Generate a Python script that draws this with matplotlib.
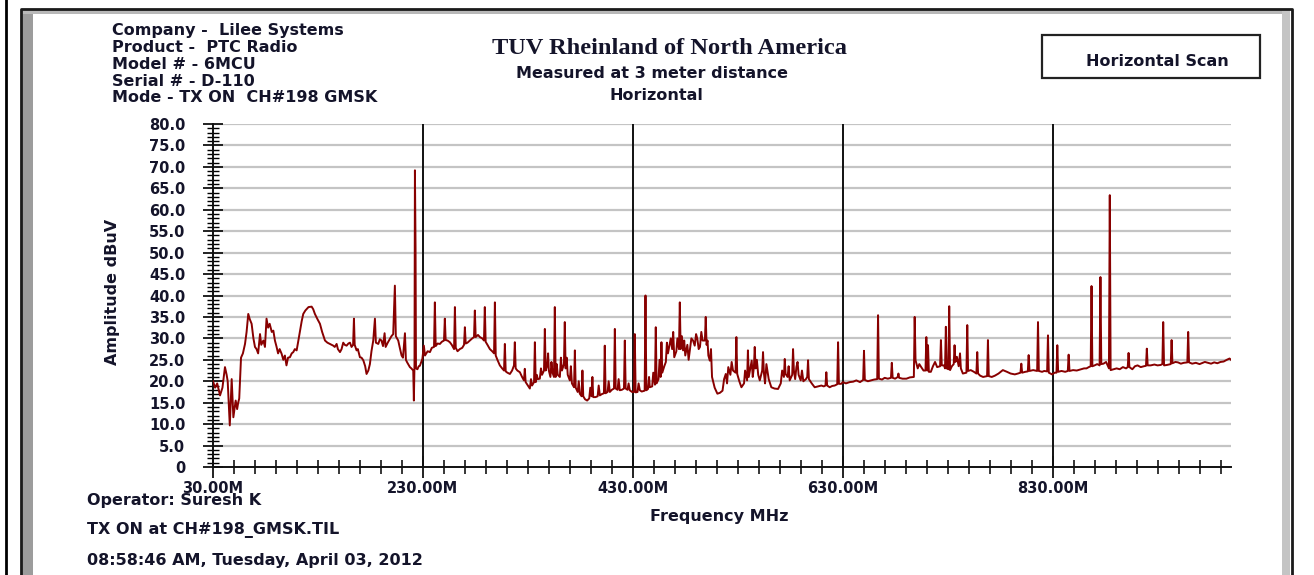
import matplotlib
matplotlib.use("Agg")
import matplotlib.pyplot as plt
import matplotlib.ticker as mticker
from matplotlib.patches import Rectangle
from matplotlib.lines import Line2D

# ---------------- data ----------------
band1 = [(30.0, 20.0), (32.0, 18.5), (34.0, 19.5), (36.7, 16.7), (39.0, 18.5), (41.4, 23.3), (43.0, 21.5),
         (44.0, 20.0), (46.0, 9.7), (47.8, 20.5), (49.4, 11.6), (51.0, 14.5), (51.6, 15.5), (53.0, 13.5),
         (54.0, 15.0), (55.0, 16.0), (56.7, 25.5), (58.5, 26.5), (60.5, 28.7), (62.0, 31.5), (63.6, 35.7),
         (65.0, 34.5), (66.8, 33.4), (68.5, 30.0), (70.0, 28.0), (71.5, 27.5), (73.0, 26.5), (74.8, 31.0),
         (76.0, 28.5), (78.0, 29.5), (79.5, 28.0), (81.0, 34.6), (82.5, 32.5), (84.0, 33.4), (86.0, 31.5),
         (87.5, 31.8), (89.0, 29.5), (90.6, 28.0), (92.0, 26.5), (93.5, 27.5), (95.4, 26.4), (97.0, 25.0),
         (98.5, 26.0), (100.0, 23.7), (101.5, 25.5), (103.3, 25.6), (105.0, 26.5), (106.5, 26.8), (108.0, 27.5),
         (109.7, 27.2), (111.0, 29.0), (112.9, 31.8), (114.5, 34.0), (116.0, 35.7), (118.0, 36.5), (121.0, 37.3),
         (124.0, 37.4), (125.5, 36.8), (127.1, 35.7), (129.5, 34.5), (131.9, 33.4), (134.0, 31.5), (136.7, 29.5),
         (139.0, 29.0), (141.4, 28.7), (144.6, 28.3), (146.0, 28.0), (147.8, 28.7), (149.0, 27.5), (151.0, 26.8),
         (152.5, 27.5), (154.1, 29.0), (155.5, 28.5), (157.3, 28.3), (159.0, 28.8), (160.5, 29.0), (162.0, 28.0),
         (163.5, 28.5), (164.3, 34.6), (165.0, 28.5), (166.8, 27.2), (168.0, 27.5), (170.0, 25.6), (171.5, 25.5),
         (173.2, 24.9), (175.0, 23.5), (176.3, 21.7), (178.0, 22.5), (179.5, 24.0), (181.0, 27.0), (182.7, 29.5),
         (184.3, 34.6), (185.2, 29.0), (187.5, 28.7), (189.0, 29.8), (190.5, 29.5), (192.0, 28.2), (193.5, 31.2),
         (194.5, 28.0), (196.5, 29.0), (198.6, 29.9), (200.0, 30.5), (201.7, 31.0), (203.3, 42.3), (204.2, 30.5),
         (206.5, 29.5), (208.0, 27.8), (209.7, 26.0), (211.0, 25.5), (212.9, 31.2), (213.8, 25.0), (215.0, 24.4),
         (217.6, 23.3), (219.0, 23.0), (220.8, 22.5), (221.4, 15.5), (222.0, 24.0), (222.4, 69.2), (223.0, 51.0),
         (223.4, 23.0), (224.8, 22.8), (226.0, 23.5), (227.1, 23.6), (229.5, 25.2)]

band2 = [(230.9, 28.3), (232.0, 26.0), (234.5, 27.0), (236.7, 26.8), (238.5, 27.8), (240.6, 28.0), (241.4, 38.4),
         (242.2, 28.2), (244.0, 28.8), (246.2, 28.7), (248.0, 29.2), (250.1, 29.5), (250.9, 34.6), (251.7, 29.6),
         (253.5, 29.5), (255.7, 29.1), (257.5, 28.5), (259.7, 27.5), (260.5, 37.3), (261.3, 27.8), (263.0, 27.0),
         (265.2, 27.5), (267.5, 27.8), (269.2, 28.5), (270.0, 32.6), (270.8, 28.8), (272.5, 29.0), (274.8, 29.5),
         (277.0, 30.0), (278.7, 30.3), (279.5, 36.5), (280.3, 30.3), (282.5, 30.8), (284.3, 30.3), (286.5, 30.0),
         (288.2, 29.5), (289.0, 37.3), (289.8, 29.2), (291.5, 28.5), (293.8, 27.5), (296.0, 27.0), (297.8, 26.5),
         (298.6, 38.4), (299.4, 26.0), (301.0, 25.0), (303.3, 23.7), (305.5, 23.0), (307.3, 22.5), (308.1, 28.7),
         (308.9, 22.3), (310.5, 22.0), (312.9, 21.7), (315.0, 22.5), (316.8, 23.7), (317.6, 29.1), (318.4, 23.0),
         (320.0, 22.5), (322.4, 22.1), (324.5, 21.0), (326.3, 20.2), (327.1, 22.9), (327.9, 19.8), (330.0, 19.0),
         (331.9, 18.3), (333.0, 20.5), (334.0, 19.0), (335.9, 19.8), (336.7, 29.1), (337.5, 19.8), (338.5, 21.5),
         (339.5, 20.5), (341.4, 20.6), (342.5, 23.0), (343.5, 21.5), (345.4, 22.5), (346.2, 32.2), (347.0, 22.5),
         (348.5, 23.7), (349.3, 26.5), (350.0, 22.5), (351.5, 21.0), (352.5, 24.5), (353.5, 22.0), (354.9, 21.0),
         (355.7, 37.3), (356.5, 21.0), (357.5, 24.0), (358.5, 21.5), (360.5, 21.0), (361.5, 25.5), (362.5, 22.5),
         (364.4, 24.0), (365.2, 33.8), (366.0, 23.0), (367.0, 25.5), (368.0, 21.5), (370.0, 20.2), (371.0, 23.5),
         (372.0, 19.5), (374.0, 18.6), (374.8, 27.2), (375.6, 18.5), (377.5, 17.5), (378.5, 20.0), (379.5, 17.1),
         (381.2, 16.5), (382.0, 22.5), (382.8, 16.5), (384.5, 15.8), (386.5, 15.5), (388.5, 16.0), (389.5, 18.5),
         (390.7, 16.5), (391.5, 21.0), (392.3, 16.3), (394.5, 16.3), (396.5, 16.5), (397.5, 19.0), (398.6, 16.7),
         (400.5, 17.0), (402.5, 17.2), (403.3, 28.3), (404.1, 17.2), (406.0, 17.5), (407.0, 20.0), (408.1, 17.5),
         (410.0, 18.0), (412.1, 18.3), (412.9, 32.2), (413.7, 18.3), (415.5, 18.0), (416.5, 20.5), (417.6, 17.9),
         (419.5, 18.0), (421.6, 18.3), (422.4, 29.5), (423.2, 18.3), (425.0, 18.0), (426.0, 19.5), (427.1, 17.9),
         (429.3, 17.5)]

band3 = [(431.1, 17.5), (431.9, 31.0), (432.7, 17.4), (434.5, 17.5), (435.5, 19.5), (436.7, 17.9), (438.5, 17.6),
         (441.3, 17.8), (442.1, 40.0), (442.9, 17.9), (444.5, 18.2), (445.5, 21.0), (446.2, 18.6), (448.5, 18.8),
         (449.5, 22.0), (451.1, 19.2), (451.9, 32.6), (452.7, 19.5), (454.5, 20.5), (455.5, 25.0), (456.5, 21.0),
         (457.3, 29.1), (458.1, 22.0), (460.0, 23.5), (461.5, 24.5), (462.5, 29.0), (463.5, 26.5), (465.2, 28.7),
         (466.2, 30.0), (467.5, 27.5), (468.5, 31.5), (469.5, 25.6), (471.5, 27.0), (472.5, 30.0), (474.0, 27.5),
         (474.8, 38.4), (475.6, 27.5), (476.8, 30.5), (477.9, 27.2), (479.0, 29.5), (480.0, 26.0), (482.0, 28.5),
         (483.2, 25.0), (484.3, 27.2), (485.8, 30.0), (487.4, 29.5), (489.0, 28.3), (490.3, 31.0), (491.5, 29.9),
         (492.8, 27.5), (494.0, 28.0), (495.3, 31.5), (496.5, 29.5), (498.7, 29.5), (499.5, 35.0), (500.3, 28.5),
         (501.2, 29.5), (502.0, 26.0), (503.4, 24.8), (504.5, 27.5), (505.5, 21.0), (508.0, 18.5), (510.6, 17.1),
         (513.0, 17.3), (515.5, 17.8), (517.0, 20.5), (518.6, 21.7), (519.8, 19.5), (521.0, 23.3), (523.0, 21.5),
         (524.2, 24.5), (525.5, 22.5), (527.9, 22.0), (528.7, 30.3), (529.5, 21.7), (531.5, 20.0), (533.5, 18.6),
         (536.0, 19.5), (537.0, 22.5), (538.9, 20.2), (539.7, 27.2), (540.5, 21.0), (543.3, 24.8), (544.3, 21.0),
         (545.4, 23.3), (546.2, 28.0), (547.0, 23.0), (548.2, 25.0), (549.5, 21.5), (551.0, 20.2), (553.3, 22.5),
         (554.1, 26.8), (554.9, 22.0), (556.0, 19.5), (557.3, 24.0), (559.5, 20.5), (562.0, 18.6), (565.0, 18.3),
         (568.4, 18.2), (571.0, 19.5), (572.3, 22.5), (574.0, 21.0), (574.8, 25.2), (575.6, 21.7), (577.5, 21.0),
         (578.5, 23.5), (579.5, 20.2), (581.9, 21.5), (582.7, 27.5), (583.5, 22.5), (584.7, 20.5), (585.9, 23.3),
         (587.0, 24.5), (588.0, 21.5), (590.0, 20.2), (591.2, 22.5), (592.5, 20.0), (595.0, 20.5), (596.2, 21.0),
         (597.0, 24.9), (597.8, 20.5), (600.5, 19.5), (603.3, 18.6), (606.5, 18.8), (609.7, 19.0), (612.0, 18.8),
         (613.6, 19.0), (614.4, 22.1), (615.2, 19.0), (617.6, 18.6), (620.0, 18.9), (622.4, 19.0), (624.8, 19.3),
         (625.6, 29.1), (626.4, 19.4), (628.5, 19.4), (630.3, 19.8)]

band4 = [(633.0, 19.5), (636.7, 19.8), (640.0, 19.9), (643.0, 20.2), (646.5, 19.8), (649.5, 20.3), (650.3, 27.1),
         (651.1, 20.3), (654.0, 20.0), (657.0, 20.2), (660.0, 20.4), (662.9, 20.5), (663.7, 35.4), (664.5, 20.6),
         (667.5, 20.4), (670.0, 20.8), (673.0, 20.6), (676.0, 20.8), (676.8, 24.3), (677.6, 20.8), (680.0, 20.6),
         (682.5, 21.0), (683.1, 21.8), (683.8, 20.8), (687.0, 20.6), (690.7, 20.6), (694.0, 20.9), (697.8, 21.0),
         (698.6, 35.0), (699.4, 24.9), (701.5, 23.0), (703.0, 24.0), (704.8, 23.3), (707.0, 22.5), (708.9, 22.5),
         (709.7, 30.3), (710.5, 22.5), (711.3, 28.4), (712.1, 22.2), (714.0, 22.2), (716.0, 23.5), (718.0, 24.5),
         (720.0, 23.3), (722.8, 23.5), (723.6, 29.6), (724.4, 23.7), (726.5, 23.7), (727.5, 23.0), (728.3, 32.7),
         (729.1, 23.0), (730.7, 22.8), (731.5, 37.5), (732.3, 22.6), (734.0, 23.5), (735.8, 24.0), (736.6, 28.4),
         (737.4, 24.5), (738.8, 25.7), (740.5, 23.5), (741.8, 26.5), (742.6, 23.0), (744.5, 21.8), (747.9, 22.0),
         (748.7, 33.1), (749.5, 22.4), (752.0, 22.6), (755.0, 22.2), (757.4, 21.8), (758.2, 26.8), (759.0, 21.8),
         (761.0, 21.3), (763.8, 21.0), (767.6, 21.2), (768.4, 29.6), (769.2, 21.2), (772.0, 21.0), (775.0, 21.3),
         (778.5, 21.8), (782.6, 22.6), (786.5, 22.2), (790.0, 21.8), (794.0, 21.6), (797.0, 21.8), (799.4, 22.0),
         (800.2, 24.1), (801.0, 22.0), (804.0, 22.2), (806.4, 22.3), (807.2, 26.1), (808.0, 22.4), (811.5, 22.6),
         (815.3, 22.4), (816.1, 33.8), (816.9, 22.4), (820.0, 22.2), (822.0, 22.4), (824.8, 22.3), (825.6, 30.7),
         (826.4, 22.0), (829.5, 21.6), (832.0, 22.0), (833.7, 22.0), (834.5, 28.4), (835.3, 22.2), (838.5, 22.4),
         (842.0, 22.2), (844.5, 22.4), (845.3, 26.2), (846.1, 22.4), (849.5, 22.6), (853.0, 22.5), (857.0, 22.8),
         (860.0, 23.0), (862.3, 23.0), (864.5, 23.3), (866.3, 23.5), (867.1, 42.2), (867.9, 23.5), (870.0, 23.7),
         (872.5, 24.0), (874.8, 23.7), (875.6, 44.3), (876.4, 24.0), (878.5, 24.1), (881.0, 24.5), (883.7, 23.0),
         (884.5, 63.4), (885.3, 22.6), (888.0, 22.8), (891.0, 23.0), (894.0, 22.8), (897.0, 23.3), (900.0, 23.0),
         (901.6, 23.3), (902.4, 26.6), (903.2, 23.3), (906.0, 22.8), (908.5, 23.5), (911.0, 23.7), (914.0, 23.3),
         (917.0, 23.5), (919.0, 23.6), (919.8, 27.6), (920.6, 23.7), (923.5, 23.7), (927.0, 23.9), (930.0, 23.7),
         (933.0, 23.8), (934.6, 24.0), (935.4, 33.8), (936.2, 23.7), (939.0, 23.8), (942.6, 24.0), (943.4, 29.6),
         (944.2, 24.2), (947.0, 24.5), (949.5, 24.4), (952.2, 24.1), (955.0, 24.3), (958.4, 24.4), (959.2, 31.5),
         (960.0, 24.4), (963.0, 24.1), (966.5, 24.3), (970.0, 24.0), (973.0, 24.3), (975.1, 24.5), (978.0, 24.3),
         (981.0, 24.1), (984.0, 24.4), (987.0, 24.2), (990.0, 24.5), (993.0, 24.6), (996.0, 25.0), (998.6, 25.3),
         (1000.0, 25.0)]

x_major_ticks = [30, 230, 430, 630, 830]
x_tick_labels = ["30.00M", "230.00M", "430.00M", "630.00M", "830.00M"]
y_major_ticks = [0, 5, 10, 15, 20, 25, 30, 35, 40, 45, 50, 55, 60, 65, 70, 75, 80]
y_tick_labels = ["0", "5.0", "10.0", "15.0", "20.0", "25.0", "30.0", "35.0", "40.0", "45.0",
                 "50.0", "55.0", "60.0", "65.0", "70.0", "75.0", "80.0"]

header_lines = ["Company -  Lilee Systems", "Product -  PTC Radio", "Model # - 6MCU",
                "Serial # - D-110", "Mode - TX ON  CH#198 GMSK"]
title = "TUV Rheinland of North America"
subtitle1 = "Measured at 3 meter distance"
subtitle2 = "Horizontal"
legend_text = "Horizontal Scan"
footer_lines = ["Operator: Suresh K", "TX ON at CH#198_GMSK.TIL", "08:58:46 AM, Tuesday, April 03, 2012"]

# ---------------- figure ----------------
W, H = 1314, 575
fig = plt.figure(figsize=(W / 100, H / 100), dpi=100)
fig.patch.set_facecolor("white")

SANS = ["DejaVu Sans"]
SERIF = ["Liberation Serif", "DejaVu Serif"]
TXT = "#14142a"
FS = 11.5


def fx(x):
    return x / W


def fy(y):
    return 1 - y / H


# frame decorations (pixel-placed)
fig.add_artist(Line2D([fx(5.5), fx(5.5)], [0, 1], color="black", lw=2, transform=fig.transFigure))
fig.add_artist(Rectangle((fx(22), fy(575)), fx(11), fy(10) - fy(575), facecolor="#9c9c9c",
                         edgecolor="none", transform=fig.transFigure))
fig.add_artist(Rectangle((fx(22), fy(14)), fx(1268), fy(10) - fy(14), facecolor="#b8b8b8",
                         edgecolor="none", transform=fig.transFigure))
fig.add_artist(Rectangle((fx(1282), fy(575)), fx(8), fy(10) - fy(575), facecolor="#c4c4c4",
                         edgecolor="none", transform=fig.transFigure))
fig.add_artist(Line2D([fx(21), fx(21), fx(1291.5), fx(1291.5)], [0, fy(8.5), fy(8.5), 0],
                      color="#1a1a1a", lw=2, transform=fig.transFigure))

# axes
ax = fig.add_axes([fx(213), fy(467), fx(1231) - fx(213), fy(124) - fy(467)])
ax.set_xlim(30, 1000)
ax.set_ylim(0, 80)

freq = [p[0] for b in (band1, band2, band3, band4) for p in b]
amp = [p[1] for b in (band1, band2, band3, band4) for p in b]
ax.plot(freq, amp, color="#880000", lw=1.4, zorder=3)

for y in y_major_ticks[1:]:
    ax.axhline(y, color="#c4c4c4", lw=1.6, zorder=1)
for x in x_major_ticks[1:]:
    ax.axvline(x, color="#111111", lw=1.4, zorder=2)

for s in ("top", "right"):
    ax.spines[s].set_visible(False)
for s in ("left", "bottom"):
    ax.spines[s].set_color("#111111")
    ax.spines[s].set_linewidth(1.4)

ax.set_xticks(x_major_ticks)
ax.set_xticklabels(x_tick_labels)
ax.xaxis.set_minor_locator(mticker.MultipleLocator(20, offset=10))
ax.set_yticks(y_major_ticks)
ax.set_yticklabels(y_tick_labels)
ax.yaxis.set_minor_locator(mticker.MultipleLocator(1))

ax.tick_params(axis="x", which="major", direction="inout", length=16, width=1.3, pad=2,
               labelsize=10.5, colors="#111111")
ax.tick_params(axis="x", which="minor", direction="inout", length=10, width=1.1)
ax.tick_params(axis="y", which="major", direction="inout", length=14, width=1.3, pad=13,
               labelsize=10.5, colors="#111111")
ax.tick_params(axis="y", which="minor", direction="inout", length=9, width=1.0)
for lab in ax.get_xticklabels() + ax.get_yticklabels():
    lab.set_fontfamily(SANS)
    lab.set_fontweight("bold")
    lab.set_color(TXT)

# texts
for i, line in enumerate(header_lines):
    fig.text(fx(112), fy(31 + i * 16.7), line, ha="left", va="center", fontsize=FS,
             fontweight="bold", family=SANS, color=TXT)

fig.text(fx(670), fy(48), title, ha="center", va="center", fontsize=17.6, fontweight="bold",
         family=SERIF, color=TXT)
fig.text(fx(652), fy(73), subtitle1, ha="center", va="center", fontsize=FS, fontweight="bold",
         family=SANS, color=TXT)
fig.text(fx(656), fy(96), subtitle2, ha="center", va="center", fontsize=FS, fontweight="bold",
         family=SANS, color=TXT)

fig.add_artist(Rectangle((fx(1042), fy(78)), fx(218), fy(35) - fy(78), facecolor="white",
                         edgecolor="#222222", lw=1.6, transform=fig.transFigure))
fig.text(fx(1157), fy(62), legend_text, ha="center", va="center", fontsize=FS, fontweight="bold",
         family=SANS, color=TXT)

fig.text(fx(113), fy(292), "Amplitude dBuV", rotation=90, ha="center", va="center", fontsize=FS,
         fontweight="bold", family=SANS, color=TXT)
fig.text(fx(719), fy(516), "Frequency MHz", ha="center", va="center", fontsize=FS,
         fontweight="bold", family=SANS, color=TXT)

for yy, line in zip([501, 530, 560], footer_lines):
    fig.text(fx(87), fy(yy), line, ha="left", va="center", fontsize=FS, fontweight="bold",
             family=SANS, color=TXT)

fig.savefig("out.png", dpi=100, facecolor="white")
